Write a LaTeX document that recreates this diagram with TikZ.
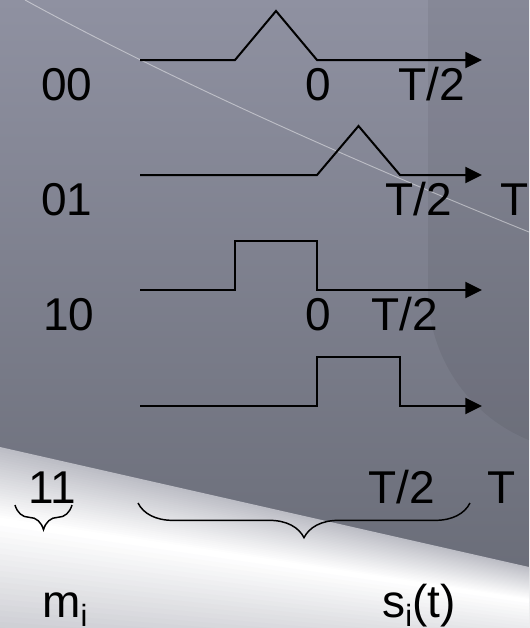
\documentclass[tikz,border=0pt]{standalone}
\usepackage{fontspec}
\setmainfont{Liberation Sans}
\usetikzlibrary{arrows.meta,decorations.pathreplacing}

\definecolor{bgtop}{HTML}{8F91A1}
\definecolor{bgbottom}{HTML}{676A75}
\definecolor{sheenhi}{HTML}{BCBDC5}
\definecolor{sheenlo}{HTML}{B2B3BC}

\tikzset{
  wave/.style={line width=1.5pt, line join=miter, -{Triangle[length=12.5pt,width=12pt]}},
  lbl/.style={anchor=base, inner sep=0pt, font=\fontsize{34.5}{40}\selectfont},
  bracedown/.style={decorate, decoration={brace, mirror, amplitude=#1}, line width=1.1pt}
}
\newcommand{\subi}{\raisebox{-7pt}{\fontsize{23}{23}\selectfont i}}

\begin{document}
\begin{tikzpicture}[x=0.75pt, y=-0.75pt]
                \useasboundingbox (0,0) rectangle (529,628);

                % Background
                \shade[top color=bgtop, bottom color=bgbottom] (0,0) rectangle (529,628);
                \fill[black, opacity=0.06] (428,0) -- (428,290) arc[start angle=180, end angle=112, radius=162] |- (529,0) -- cycle;
                \draw[white, opacity=0.45, line width=0.7pt] (25,0) .. controls (180,85) and (380,172) .. (529,232);

                % Sheen at the bottom
                \foreach \k in {0,...,29} {
                    \pgfmathsetmacro{\la}{447 + \k*73/30}
                    \pgfmathsetmacro{\ra}{567 + \k*33/30}
                    \pgfmathsetmacro{\p}{\k*100/29}
                    \fill[white!\p!sheenhi] (0,\la) -- (529,\ra) -- (529,\ra+3) -- (0,\la+4) -- cycle;
                }
                \foreach \k in {0,...,29} {
                    \pgfmathsetmacro{\la}{520 + \k*170/30}
                    \pgfmathsetmacro{\ra}{600 + \k*100/30}
                    \pgfmathsetmacro{\p}{100 - \k*100/29}
                    \fill[white!\p!sheenlo] (0,\la) -- (529,\ra) -- (529,\ra+5) -- (0,\la+7) -- cycle;
                }

                % Waveforms: triangles
                \foreach \y/\a/\b in {60/235/317, 175/317/400} {
                    \draw[wave] (140,\y) -- (\a,\y) -- ({(\a+\b)/2},\y-49) -- (\b,\y) -- (482,\y);
                }
                % Waveforms: pulses
                \foreach \y/\a/\b in {290/235/317, 406/317/400} {
                    \draw[wave] (140,\y) -- (\a,\y) -- (\a,\y-49) -- (\b,\y-49) -- (\b,\y) -- (482,\y);
                }

                % Messages
                \node[lbl] (msgA) at (67,100) {00};
                \node[lbl] (msgB) at (67,215) {01};
                \node[lbl] (msgC) at (69,330) {10};
                \node[lbl] (msgD) at (52,503) {11};

                % Time marks
                \node[lbl] (zeroA) at (318,100) {0};
                \node[lbl] (halfA) at (432,100) {T/2};
                \node[lbl] (halfB) at (419,215) {T/2};
                \node[lbl] (fullB) at (515,215) {T};
                \node[lbl] (zeroC) at (318,330) {0};
                \node[lbl] (halfC) at (405,330) {T/2};
                \node[lbl] (halfD) at (402,503) {T/2};
                \node[lbl] (fullD) at (502,503) {T};

                % Braces
                \coordinate (msgL) at (15,505);
                \coordinate (msgR) at (72,505);
                \coordinate (sigL) at (138,503);
                \coordinate (sigR) at (470,503);
                \draw[bracedown=18.5pt] (msgL) -- (msgR);
                \draw[bracedown=26pt] (sigL) -- (sigR);

                % Names
                \node[lbl, anchor=base west] (msgname) at (42,617) {m\subi};
                \node[lbl, anchor=base west] (signame) at (382,617) {s\subi(t)};
            \end{tikzpicture}
\end{document}
